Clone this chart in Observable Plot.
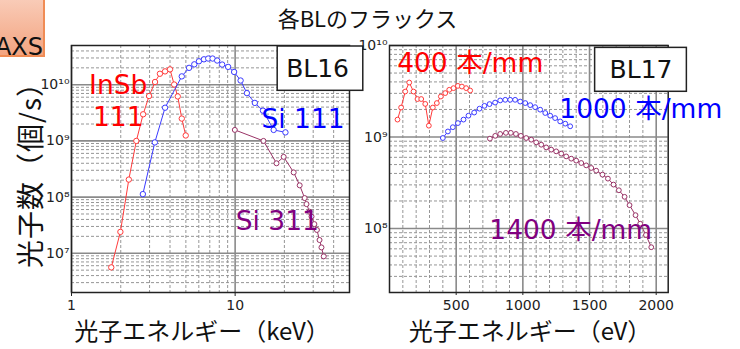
<!DOCTYPE html>
<html><head><meta charset="utf-8">
<script src="https://cdn.jsdelivr.net/npm/d3@7"></script>
<script src="https://cdn.jsdelivr.net/npm/@observablehq/plot@0.6"></script>
<style>
html,body{margin:0;padding:0;background:#fff;}
#wrap{position:relative;width:740px;height:349px;overflow:hidden;background:#fff;}
.abs{position:absolute;}
#axs{left:-8px;top:-2px;width:53px;height:59px;box-sizing:border-box;border:2px solid #f08c55;background:linear-gradient(#f9cbb7,#f3a480);}
#axs span{position:absolute;right:0;top:35px;font:24px/1 "DejaVu Sans",sans-serif;color:#111;}
#title{left:0;top:6px;width:735px;text-align:center;font:22px/1 "Noto Sans CJK JP",sans-serif;color:#111;}
.xt{top:318px;width:400px;text-align:center;font:24px/1 "Noto Sans CJK JP",sans-serif;color:#111;}
#ytitle{left:-101px;top:153px;width:260px;height:30px;line-height:30px;text-align:center;transform:rotate(-90deg);font-size:28px;font-family:"Noto Sans CJK JP",sans-serif;letter-spacing:1px;color:#111;}
#left{left:0;top:0;z-index:2;}
#right{left:330px;top:0;z-index:1;}
</style></head>
<body>
<div id="wrap">
  <div class="abs" id="axs"><span>AXS</span></div>
  <div class="abs" id="title">各BLのフラックス</div>
  <div class="abs" id="ytitle">光子数（個/s）</div>
  <div class="abs xt" style="left:2px">光子エネルギー（keV）</div>
  <div class="abs xt" style="left:330px">光子エネルギー（eV）</div>
  <div class="abs" id="left"></div>
  <div class="abs" id="right"></div>
</div>
<script>
// ---- BL16 (keV, log x) ----
const insbE = [1.75, 1.99, 2.24, 2.49, 2.74, 2.98, 3.24, 3.47, 3.73, 4.0, 4.24, 4.46, 4.72, 4.99];
const insbF = [5.6e6, 2.4e7, 2.05e8, 1.0e9, 2.98e9, 6.3e9, 1.12e10, 1.57e10, 1.73e10, 1.88e10, 1.01e10, 6.2e9, 2.5e9, 1.25e9];
const si111E = [2.73, 3.23, 3.73, 4.72, 5.23, 5.63, 6.01, 6.45, 6.85, 7.28, 7.77, 8.33, 9.06, 9.86, 10.8, 11.8, 13.2, 14.8, 17.2, 20.3];
const si111F = [1.13e8, 9.4e8, 3.9e9, 1.41e10, 2.0e10, 2.31e10, 2.62e10, 2.84e10, 2.93e10, 2.93e10, 2.7e10, 2.29e10, 2.08e10, 1.69e10, 1.19e10, 7.1e9, 4.75e9, 3.46e9, 1.57e9, 1.42e9];
const si311E = [9.96, 14.9, 17.9, 19.8, 22.8, 24.8, 26.6, 27.3, 28.5, 29.3, 30.5, 31.6, 32.8, 33.7, 34.8];
const si311F = [1.57e9, 1.0e9, 4.0e8, 5.2e8, 2.75e8, 1.62e8, 9.6e7, 7.5e7, 5.5e7, 4.5e7, 3.3e7, 2.6e7, 1.72e7, 1.27e7, 8.8e6];

// ---- BL17 (eV, linear x) ----
const g400E = [60, 87, 118, 148, 180, 210, 238, 268, 295, 325, 355, 385, 418, 448, 480, 513, 543, 575, 605];
const g400F = [1.55e9, 2.1e9, 3.14e9, 3.94e9, 3.14e9, 2.6e9, 2.6e9, 2.3e9, 1.33e9, 2.1e9, 2.35e9, 2.77e9, 3.02e9, 3.28e9, 3.42e9, 3.62e9, 3.56e9, 3.42e9, 3.22e9];
const g1000E = [400, 438, 475, 513, 555, 592, 635, 675, 712, 750, 792, 830, 868, 905, 942, 980, 1018, 1055, 1092, 1130, 1168, 1205, 1242, 1280, 1318, 1355];
const g1000F = [9.75e8, 1.15e9, 1.28e9, 1.42e9, 1.55e9, 1.71e9, 1.85e9, 2.04e9, 2.19e9, 2.29e9, 2.38e9, 2.51e9, 2.55e9, 2.55e9, 2.55e9, 2.44e9, 2.35e9, 2.23e9, 2.12e9, 1.99e9, 1.83e9, 1.71e9, 1.61e9, 1.48e9, 1.4e9, 1.31e9];
const g1400E = [753, 793, 830, 873, 910, 948, 985, 1025, 1063, 1100, 1138, 1175, 1213, 1250, 1288, 1325, 1363, 1400, 1438, 1475, 1513, 1550, 1597, 1638, 1680, 1720, 1763, 1800, 1845, 1880, 1923, 1963];
const g1400F = [9.6e8, 1.03e9, 1.08e9, 1.11e9, 1.11e9, 1.08e9, 1.03e9, 9.75e8, 9.35e8, 8.74e8, 8.24e8, 7.7e8, 7.28e8, 6.97e8, 6.58e8, 6.14e8, 5.8e8, 5.52e8, 5.2e8, 4.9e8, 4.59e8, 4.29e8, 3.88e8, 3.51e8, 3.02e8, 2.62e8, 2.22e8, 1.8e8, 1.4e8, 1.13e8, 8.5e7, 6.25e7];

// ---- ticks ----
const leftXTicks = [1, 10];
const leftYTicks = [1e7, 1e8, 1e9, 1e10];
const rightXTicks = [500, 1000, 1500, 2000];
const rightYTicks = [1e8, 1e9, 1e10];

// ---- annotations (data coordinates) ----
const leftLabelText = ["InSb", "111", "Si 111", "Si 311"];
const leftLabelX = [1.93, 1.93, 26.0, 18.1];
const leftLabelY = [9.6e9, 2.56e9, 2.45e9, 3.6e7];
const leftLabelColor = ["#ff0000", "#ff0000", "#0000ff", "#800080"];
const rightLabelText = ["400 本/mm", "1000 本/mm", "1400 本/mm"];
const rightLabelX = [605, 1884, 1359];
const rightLabelY = [6.3e9, 1.99e9, 9.5e7];
const rightLabelColor = ["#ff0000", "#0000ff", "#800080"];

const zip = (E, F) => E.map((e, i) => ({E: e, F: F[i]}));
const labels = (t, x, y, c) => t.map((s, i) => ({t: s, x: x[i], y: y[i], c: c[i]}));
const sup = {"0":"⁰","1":"¹","2":"²","3":"³","4":"⁴","5":"⁵","6":"⁶","7":"⁷","8":"⁸","9":"⁹"};
const pow10 = d => "10" + String(Math.round(Math.log10(d))).split("").map(c => sup[c]).join("");
const isDecade = v => Math.abs(Math.log10(v) - Math.round(Math.log10(v))) < 1e-9;

const font = "DejaVu Sans, Noto Sans CJK JP, sans-serif";
const minorStyle = {stroke: "#969696", strokeWidth: 1, strokeDasharray: "3,2"};
const majorStyle = {stroke: "#8a8a8a", strokeWidth: 1.6};
const axisStyle = {fontFamily: "DejaVu Sans, sans-serif", fontSize: "14px", background: "transparent", overflow: "visible", color: "#222"};

function series(data, color, r) {
  return [
    Plot.line(data, {x: "E", y: "F", stroke: color, strokeWidth: 1}),
    Plot.dot(data, {x: "E", y: "F", r, stroke: color, strokeWidth: 1, fill: "white"})
  ];
}
function boxLabel(text, x, y, x1, x2, y1, y2) {
  return [
    Plot.rect([0], {x1: () => x1, x2: () => x2, y1: () => y1, y2: () => y2, fill: "white", stroke: "#222", strokeWidth: 1.5}),
    Plot.text([text], {x: () => x, y: () => y, text: d => d, fontSize: 25, fontFamily: font, fill: "#111"})
  ];
}

// ---- left panel ----
const lxDomain = [1, 50], lyDomain = [2e6, 5e10];
const lxAll = d3.scaleLog().domain(lxDomain).ticks();
const lyAll = d3.scaleLog().domain(lyDomain).ticks();
const left = Plot.plot({
  width: 370, height: 349, marginLeft: 71, marginRight: 21, marginTop: 45, marginBottom: 57,
  style: axisStyle,
  x: {type: "log", domain: lxDomain, ticks: leftXTicks, tickFormat: d => String(d), tickSize: 4, tickPadding: 4, label: null},
  y: {type: "log", domain: lyDomain, ticks: leftYTicks, tickFormat: pow10, tickSize: 0, tickPadding: 2, label: null},
  marks: [
    Plot.ruleX(lxAll.filter(v => !isDecade(v)), minorStyle),
    Plot.ruleY(lyAll.filter(v => !isDecade(v)), minorStyle),
    Plot.ruleX(lxAll.filter(isDecade), majorStyle),
    Plot.ruleY(lyAll.filter(isDecade), majorStyle),
    Plot.frame({stroke: "#222", strokeWidth: 1.5}),
    ...series(zip(insbE, insbF), "#ff3b3b", 2.7),
    ...series(zip(si111E, si111F), "#3b3bff", 2.7),
    ...series(zip(si311E, si311F), "#993366", 2.5),
    Plot.text(labels(leftLabelText, leftLabelX, leftLabelY, leftLabelColor), {x: "x", y: "y", text: "t", fill: "c", fontSize: 26.5, fontFamily: font}),
    ...boxLabel("BL16", 31.9, 1.94e10, 18.2, 60.7, 7.8e9, 4.8e10)
  ]
});
document.getElementById("left").append(left);

// ---- right panel ----
const rxDomain = [0, 2090], ryDomain = [2e7, 1e10];
const rxAll = d3.ticks(rxDomain[0], rxDomain[1], 20).filter(v => v > 0);
const ryAll = d3.scaleLog().domain(ryDomain).ticks();
const right = Plot.plot({
  width: 410, height: 349, marginLeft: 59, marginRight: 72.3, marginTop: 45, marginBottom: 57,
  style: axisStyle,
  x: {domain: rxDomain, ticks: rightXTicks, tickFormat: d => String(d), tickSize: 3, tickPadding: 5, label: null},
  y: {type: "log", domain: ryDomain, ticks: rightYTicks, tickFormat: pow10, tickSize: 0, tickPadding: 2, label: null},
  marks: [
    Plot.ruleX(rxAll.filter(v => v % 500 !== 0), minorStyle),
    Plot.ruleY(ryAll.filter(v => !isDecade(v)), minorStyle),
    Plot.ruleX(rxAll.filter(v => v % 500 === 0), majorStyle),
    Plot.ruleY(ryAll.filter(isDecade), majorStyle),
    Plot.frame({stroke: "#222", strokeWidth: 1.5}),
    ...series(zip(g400E, g400F), "#ff3b3b", 2.4),
    ...series(zip(g1000E, g1000F), "#3b3bff", 2.4),
    ...series(zip(g1400E, g1400F), "#993366", 2.4),
    ...boxLabel("BL17", 1886, 5.4e9, 1542, 2230, 3.12e9, 9.42e9),
    Plot.text(labels(rightLabelText, rightLabelX, rightLabelY, rightLabelColor), {x: "x", y: "y", text: "t", fill: "c", fontSize: 26.5, fontFamily: font})
  ]
});
document.getElementById("right").append(right);
</script>
</body></html>
